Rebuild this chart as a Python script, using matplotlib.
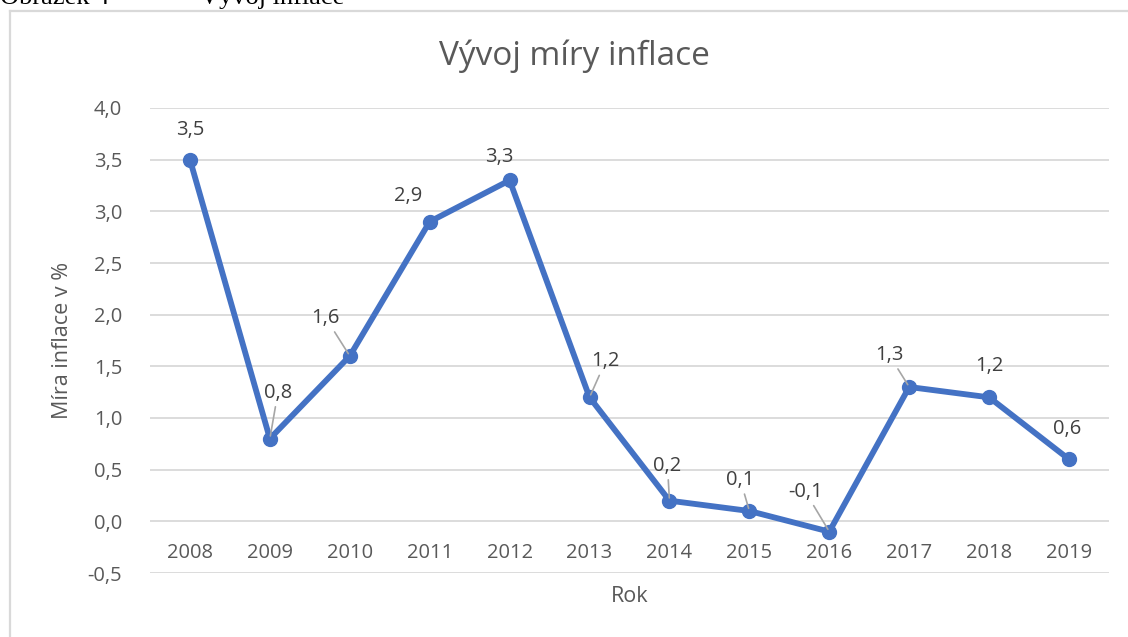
import matplotlib
matplotlib.use("Agg")
import matplotlib.pyplot as plt
from matplotlib.lines import Line2D

# data
years = ['2008', '2009', '2010', '2011', '2012', '2013',
         '2014', '2015', '2016', '2017', '2018', '2019']
inflation = [3.5, 0.8, 1.6, 2.9, 3.3, 1.2, 0.2, 0.1, -0.1, 1.3, 1.2, 0.6]
y_ticks = [-0.5, 0.0, 0.5, 1.0, 1.5, 2.0, 2.5, 3.0, 3.5, 4.0]

# label placement (pixel offsets from the point, y up) and leader lines
label_offsets = [(0, 30), (8, 46), (-24, 38), (-22, 26), (-10, 23), (16, 36),
                 (-2, 35), (-9, 31), (-24, 40), (-20, 32), (0, 31), (-2, 30)]
leaders = [False, True, True, False, False, True,
           True, True, True, True, False, False]

plt.rcParams['font.family'] = ['Open Sans', 'DejaVu Sans']

GRAY = '#595959'
BLUE = '#4472C4'

fig = plt.figure(figsize=(11.28, 6.37), dpi=100)
ax = fig.add_axes([150 / 1128, 1 - 573 / 637, 959 / 1128, 465 / 637])

x = list(range(len(years)))
ax.plot(x, inflation, color=BLUE, lw=4.2, marker='o', ms=10,
        solid_capstyle='round', solid_joinstyle='round', zorder=3)

ax.set_xlim(-0.5, len(years) - 0.5)
ax.set_ylim(-0.5, 4.0)
ax.set_yticks(y_ticks)
ax.set_yticklabels([f'{v:.1f}'.replace('.', ',') for v in y_ticks])
ax.yaxis.grid(True, color='#D9D9D9', lw=1.3)
ax.set_axisbelow(True)

ax.set_xticks(x)
ax.set_xticklabels(years)
ax.spines['bottom'].set_position(('data', 0))
for s in ax.spines.values():
    s.set_color('none')
ax.tick_params(axis='both', length=0, labelsize=14.5, labelcolor=GRAY)
ax.tick_params(axis='x', pad=15.5)
ax.tick_params(axis='y', pad=20)

ax.set_ylabel('Míra inflace v %', fontsize=15.5, color=GRAY)
ax.yaxis.set_label_coords(-(150 - 62) / 959, 0.5)
ax.yaxis.label.set_va('center')
ax.set_xlabel('Rok', fontsize=15.5, color=GRAY)
ax.xaxis.set_label_coords(0.5, -(597 - 573) / 465)
ax.xaxis.label.set_va('center')

for i, v in enumerate(inflation):
    dx, dy = label_offsets[i]
    props = None
    if leaders[i]:
        props = dict(arrowstyle='-', color='#A6A6A6', lw=1.2,
                     shrinkA=1, shrinkB=2)
    ax.annotate(f'{v:.1f}'.replace('.', ','), xy=(i, v),
                xytext=(dx, dy), textcoords='offset pixels',
                ha='center', va='center', fontsize=14.5, color='#404040',
                arrowprops=props, zorder=4)

fig.suptitle('Vývoj míry inflace', x=574 / 1128, y=1 - 56 / 637,
             va='center', fontsize=24, color=GRAY)

# chart frame (left and top edge visible)
fig.add_artist(Line2D([10 / 1128, 10 / 1128], [0, 1 - 11 / 637],
                      transform=fig.transFigure, color='#D9D9D9', lw=1.6))
fig.add_artist(Line2D([10 / 1128, 1], [1 - 11 / 637, 1 - 11 / 637],
                      transform=fig.transFigure, color='#D9D9D9', lw=1.6))

# caption from the document, mostly cut off at the top
fig.text(0, 1 - 4 / 637, 'Obrázek 4', va='baseline', ha='left',
         fontsize=19, family='Liberation Serif', color='black')
fig.text(200 / 1128, 1 - 4 / 637, 'Vývoj inflace', va='baseline', ha='left',
         fontsize=19, family='Liberation Serif', color='black')

fig.savefig('out.png', dpi=100)
